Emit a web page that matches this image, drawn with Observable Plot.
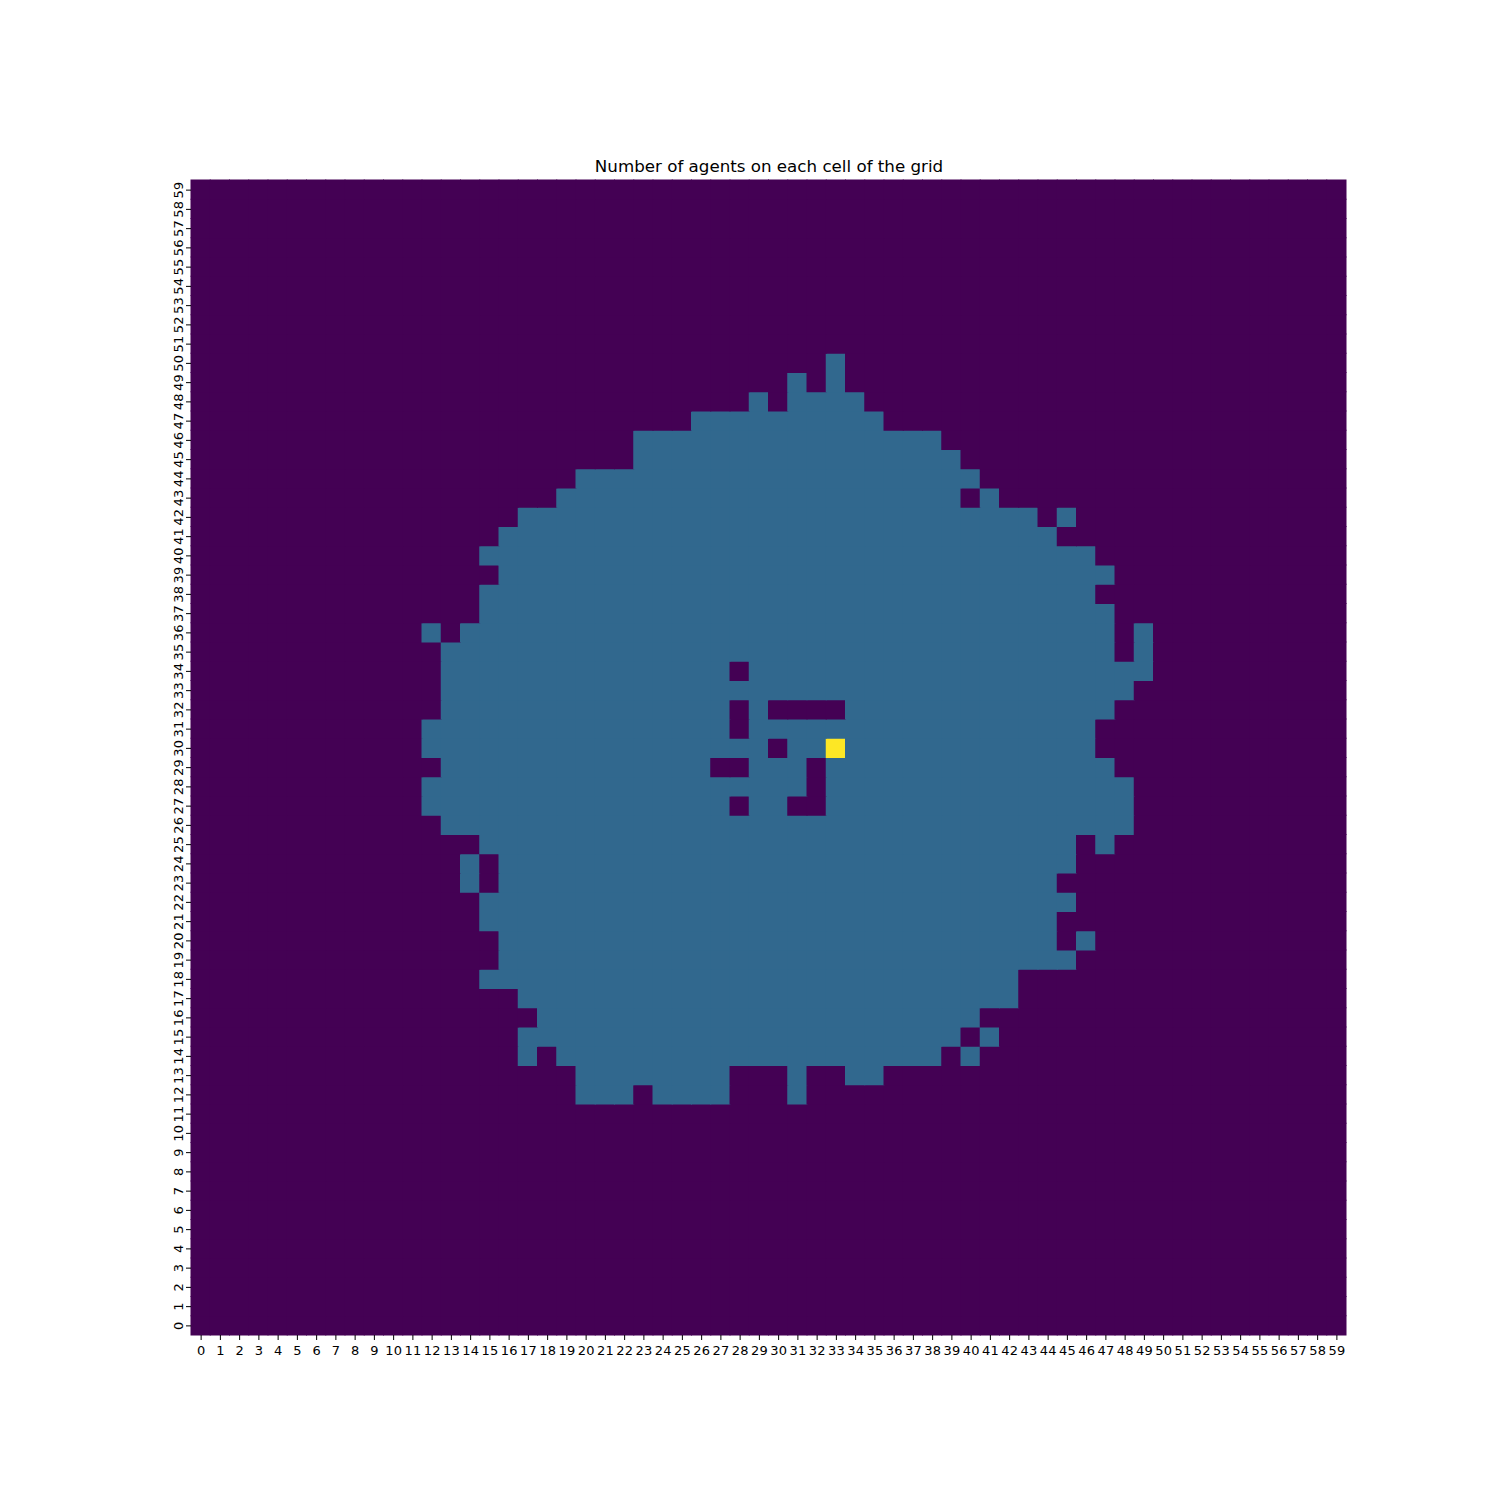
<!DOCTYPE html>
<html><head><meta charset="utf-8">
<script src="https://cdn.jsdelivr.net/npm/d3@7"></script>
<script src="https://cdn.jsdelivr.net/npm/@observablehq/plot@0.6"></script>
<style>body{margin:0;background:#fff} svg{display:block}</style>
</head><body><div id="chart"></div>
<script>
// Grid categories (column and row indices)
const columns = d3.range(60);
const rows = d3.range(60);

// Cells holding one agent, as [row, firstColumn, lastColumn] runs
const oneAgentRuns = [
  [50,33,33],
  [49,31,31],[49,33,33],
  [48,29,29],[48,31,34],
  [47,26,35],
  [46,23,38],
  [45,23,39],
  [44,20,40],
  [43,19,39],[43,41,41],
  [42,17,43],[42,45,45],
  [41,16,44],
  [40,15,46],
  [39,16,47],
  [38,15,46],
  [37,15,47],
  [36,12,12],[36,14,47],[36,49,49],
  [35,13,47],[35,49,49],
  [34,13,27],[34,29,49],
  [33,13,48],
  [32,13,27],[32,29,29],[32,34,47],
  [31,12,27],[31,29,46],
  [30,12,29],[30,31,46],
  [29,13,26],[29,29,31],[29,33,47],
  [28,12,31],[28,33,48],
  [27,12,27],[27,29,30],[27,33,48],
  [26,13,48],
  [25,15,45],[25,47,47],
  [24,14,14],[24,16,45],
  [23,14,14],[23,16,44],
  [22,15,45],
  [21,15,44],
  [20,16,44],[20,46,46],
  [19,16,45],
  [18,15,42],
  [17,17,42],
  [16,18,40],
  [15,17,39],[15,41,41],
  [14,17,17],[14,19,38],[14,40,40],
  [13,20,27],[13,31,31],[13,34,35],
  [12,20,22],[12,24,27],[12,31,31]
];

// Cells with more agents
const peakX = [33];
const peakY = [30];
const peakValue = [3];

const titleText = "Number of agents on each cell of the grid";

// Build full grid table
const value = new Map();
for (const [r, a, b] of oneAgentRuns) for (let c = a; c <= b; c++) value.set(r + "," + c, 1);
peakX.forEach((x, i) => value.set(peakY[i] + "," + x, peakValue[i]));
const cells = [];
for (const r of rows) for (const c of columns) cells.push({x: c, y: r, v: value.get(r + "," + c) ?? 0});

const plot = Plot.plot({
  width: 1500,
  height: 1500,
  marginLeft: 191,
  marginRight: 154,
  marginTop: 180,
  marginBottom: 165,
  style: {fontFamily: "DejaVu Sans", fontSize: "13px", background: "#fff", color: "#000"},
  x: {type: "band", domain: columns, padding: 0, round: false, label: null},
  y: {type: "band", domain: rows.slice().reverse(), padding: 0, round: false, label: null},
  color: {type: "linear", scheme: "viridis", domain: [0, 3]},
  marks: [
    Plot.cell(cells, {x: "x", y: "y", fill: "v", inset: -0.5}),
    Plot.axisX({anchor: "bottom", ticks: columns, tickSize: 5, tickPadding: 5, fontSize: 13, stroke: "#000", label: null}),
    Plot.axisY({anchor: "left", ticks: rows, tickSize: 5, tickPadding: 4, tickRotate: -90, fontSize: 13, stroke: "#000", label: null}),
    Plot.text([titleText], {text: d => d, frameAnchor: "top", lineAnchor: "bottom", dy: -9, fontSize: 16.7, fill: "#000"})
  ]
});
document.getElementById("chart").appendChild(plot);
</script>
</body></html>
